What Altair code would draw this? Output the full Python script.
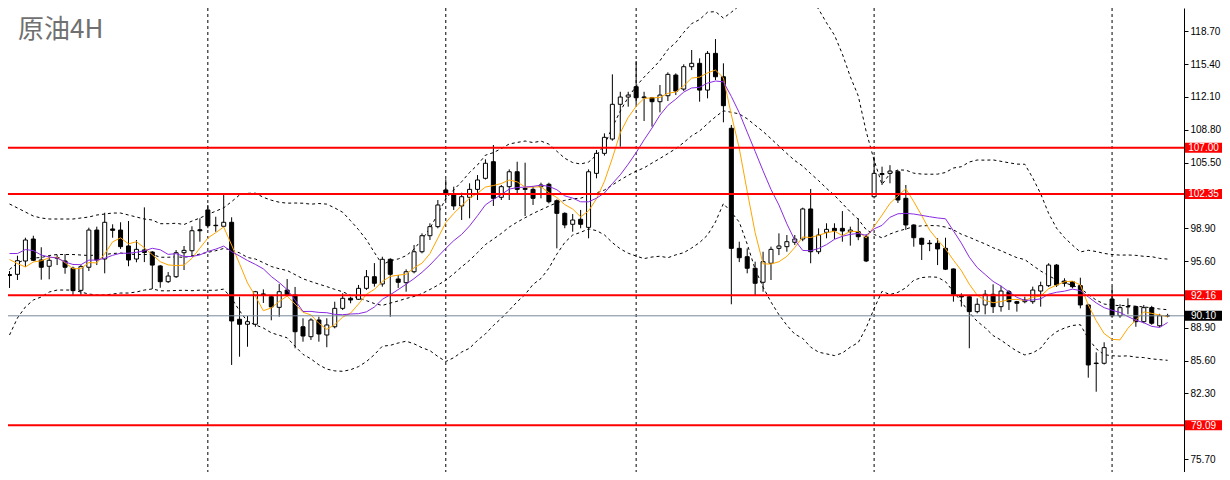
import altair as alt
import pandas as pd

# ---------------- data ----------------
opens = [94.25, 94.27, 95.61, 97.82, 95.71, 95.08, 95.95, 95.61, 94.88, 92.66,
         94.98, 98.72, 95.81, 98.83, 98.72, 97.12, 95.81, 96.72, 96.51, 95.11,
         93.53, 94.03, 96.44, 96.64, 98.75, 100.74, 99.20, 99.10, 99.50, 89.75,
         89.25, 89.25, 92.30, 92.02, 90.95, 92.69, 92.19, 89.00, 88.00, 89.68,
         88.17, 89.00, 90.85, 91.86, 91.76, 92.86, 94.03, 93.30, 95.78, 93.80,
         93.43, 94.53, 96.54, 98.15, 99.06, 102.75, 102.24, 101.14, 102.01, 102.81,
         103.92, 105.59, 102.01, 103.08, 104.58, 102.90, 102.81, 103.08, 103.32, 101.67,
         100.40, 99.30, 99.80, 98.99, 104.42, 106.43, 107.87, 111.36, 112.09, 113.13,
         112.10, 112.02, 111.62, 112.22, 114.30, 112.89, 115.14, 115.48, 112.79, 116.48,
         114.13, 108.95, 96.88, 96.04, 94.88, 93.47, 95.38, 96.88, 97.05, 97.49,
         97.82, 100.84, 96.54, 98.49, 98.89, 98.89, 98.55, 98.55, 98.05, 102.07,
         104.40, 104.42, 104.58, 101.91, 99.23, 97.89, 97.40, 97.39, 96.88, 94.81,
         92.10, 92.02, 90.52, 91.19, 92.26, 91.02, 92.52, 91.52, 91.52, 91.52,
         92.59, 93.13, 95.20, 93.60, 93.53, 93.13, 91.19, 85.35, 85.33, 91.79,
         90.11, 91.00, 91.02, 89.51, 90.92, 89.10, 90.10]
highs = [94.60, 96.14, 97.95, 98.15, 96.99, 96.14, 96.24, 96.31, 95.04, 95.21,
         98.96, 99.06, 100.46, 99.30, 99.50, 99.63, 97.72, 101.00, 96.60, 95.20,
         94.50, 96.71, 97.12, 99.10, 99.90, 101.24, 100.06, 102.24, 100.00, 92.02,
         90.08, 92.60, 92.76, 92.10, 93.29, 93.80, 93.00, 89.85, 89.85, 90.01,
         89.85, 91.52, 92.36, 92.02, 93.20, 94.70, 95.40, 96.04, 95.88, 94.20,
         94.77, 97.22, 98.39, 99.40, 101.74, 103.82, 103.08, 102.47, 103.42, 104.25,
         105.83, 107.27, 103.25, 104.82, 105.59, 105.49, 103.08, 103.48, 103.48, 101.80,
         100.50, 100.33, 100.74, 104.82, 106.76, 108.44, 114.37, 112.62, 112.62, 115.71,
         112.62, 112.10, 113.30, 114.57, 114.47, 115.38, 116.82, 115.98, 116.71, 117.92,
         115.48, 109.28, 97.55, 96.88, 95.54, 96.54, 97.05, 98.39, 98.22, 98.22,
         100.97, 102.85, 98.89, 99.40, 99.40, 100.63, 99.06, 99.90, 98.30, 106.09,
         105.09, 105.24, 104.75, 103.25, 99.30, 97.95, 97.72, 97.89, 97.95, 94.85,
         92.36, 92.10, 91.86, 92.69, 93.27, 93.13, 92.69, 91.60, 92.02, 93.03,
         93.53, 95.38, 95.30, 93.87, 93.60, 93.93, 91.30, 86.43, 87.44, 93.03,
         91.26, 91.86, 91.10, 91.19, 91.10, 90.30, 90.30]
lows = [92.90, 93.70, 95.04, 95.60, 93.73, 93.77, 95.20, 94.33, 92.19, 92.19,
        94.60, 95.20, 94.37, 97.95, 96.82, 95.08, 95.48, 95.50, 92.80, 92.92,
        93.40, 93.90, 94.70, 96.10, 97.55, 98.90, 98.55, 99.00, 85.16, 85.99,
        86.99, 89.00, 91.39, 89.65, 90.01, 92.10, 86.84, 87.50, 87.67, 87.50,
        86.94, 88.84, 90.68, 91.36, 91.70, 92.70, 93.03, 93.03, 90.01, 92.90,
        92.52, 94.37, 96.38, 97.72, 98.90, 101.74, 100.74, 99.73, 99.90, 101.74,
        103.80, 101.14, 101.74, 101.74, 102.24, 100.13, 101.24, 101.91, 101.40, 96.88,
        98.90, 98.55, 98.90, 97.89, 103.92, 106.20, 107.70, 107.10, 111.12, 111.39,
        109.68, 109.11, 110.55, 111.69, 112.29, 112.70, 114.80, 111.62, 111.96, 113.80,
        109.55, 91.26, 95.50, 94.37, 92.19, 92.52, 93.70, 96.20, 96.54, 97.22,
        97.60, 95.38, 96.30, 97.89, 97.82, 97.55, 97.15, 97.70, 95.50, 101.90,
        103.25, 103.42, 101.44, 98.73, 97.05, 95.71, 96.60, 95.20, 94.70, 91.52,
        91.02, 86.84, 90.35, 90.25, 90.38, 90.52, 90.68, 90.52, 91.36, 91.30,
        91.02, 93.00, 93.00, 93.03, 92.86, 90.85, 83.88, 82.47, 85.20, 89.90,
        89.90, 90.25, 89.00, 89.35, 89.20, 88.95, 89.95]
closes = [94.15, 95.64, 97.72, 95.68, 94.98, 95.68, 95.89, 94.98, 92.63, 95.04,
          98.72, 95.71, 99.50, 98.69, 97.05, 95.71, 96.78, 96.47, 95.20, 93.53,
          94.10, 96.44, 96.68, 98.65, 98.65, 99.16, 99.16, 99.50, 89.58, 89.25,
          89.51, 92.52, 92.20, 90.99, 92.52, 92.19, 88.50, 88.07, 89.68, 88.27,
          89.18, 90.85, 91.86, 91.69, 92.86, 94.03, 93.37, 95.78, 94.27, 93.47,
          94.53, 96.54, 98.15, 99.06, 101.24, 102.34, 101.14, 102.07, 102.81, 103.75,
          105.43, 101.91, 103.08, 104.58, 102.81, 102.81, 101.91, 103.25, 101.57, 100.40,
          99.23, 99.73, 99.30, 104.58, 106.43, 108.04, 111.36, 112.09, 112.29, 112.02,
          112.02, 111.62, 112.29, 114.37, 112.69, 115.14, 115.48, 112.79, 116.48, 114.13,
          111.22, 96.88, 95.94, 94.88, 93.37, 95.54, 96.78, 97.12, 97.55, 97.82,
          100.84, 96.54, 98.22, 98.79, 98.65, 98.62, 98.72, 98.05, 95.61, 104.42,
          104.30, 104.65, 101.74, 99.23, 97.95, 97.29, 97.35, 96.82, 94.78, 92.26,
          92.00, 90.52, 91.26, 92.26, 91.02, 92.59, 91.52, 91.36, 91.69, 92.69,
          93.13, 95.20, 93.20, 93.37, 93.03, 91.19, 85.16, 85.30, 86.90, 90.11,
          90.92, 91.02, 89.51, 90.92, 89.35, 90.11, 90.10]

# indicator values at the left edge (before a full window exists)
ma5_head = [95.76, 95.35, 95.01, 95.51]
ma10_head = [96.36, 96.36, 96.76, 96.66, 96.21, 96.01, 95.91, 95.51, 95.26]
bb_upper_head = [101.34, 100.94, 100.53, 100.13, 99.93, 99.83, 99.83, 99.83, 99.83, 99.93,
                 100.03, 100.23, 100.33, 100.43, 100.43, 100.23, 100.03, 99.83, 99.73]
bb_middle_head = [94.76, 95.41, 95.76, 95.91, 95.96, 96.16, 96.26, 96.26, 96.26, 96.21,
                  96.16, 96.21, 96.26, 96.36, 96.41, 96.31, 96.26, 96.26, 96.27]
bb_lower_head = [88.17, 89.88, 90.99, 91.69, 91.99, 92.49, 92.69, 92.69, 92.69, 92.49,
                 92.29, 92.19, 92.19, 92.29, 92.39, 92.39, 92.49, 92.69, 92.80]

levels = [107.00, 102.35, 92.16, 79.09]
last_price = [90.10]
separators = [25, 55, 79, 109, 139]
axis_ticks = [118.70, 115.40, 112.10, 108.80, 105.50, 98.90, 95.60,
              88.90, 85.60, 82.30, 75.70]
chart_title = ["原油4H"]

# ---------------- tables ----------------
n = len(closes)
candles = pd.DataFrame({"i": list(range(n)), "o": opens, "h": highs, "l": lows, "c": closes})
candles["blo"] = candles[["o", "c"]].min(axis=1)
candles["bhi"] = candles[["o", "c"]].max(axis=1)
candles["fillc"] = ["white" if c >= o else "black" for o, c in zip(opens, closes)]

cs = pd.Series(closes)
ma5 = cs.rolling(5).mean()
ma10 = cs.rolling(10).mean()
mid = cs.rolling(20).mean()
sd = cs.rolling(20).std(ddof=0)
up = mid + 2 * sd
lo = mid - 2 * sd
for k, v in enumerate(ma5_head):
    ma5[k] = v
for k, v in enumerate(ma10_head):
    ma10[k] = v
for k in range(len(bb_upper_head)):
    up[k] = bb_upper_head[k]
    mid[k] = bb_middle_head[k]
    lo[k] = bb_lower_head[k]

ind = pd.DataFrame({"i": list(range(n)), "ma5": ma5, "ma10": ma10})
bands = pd.concat([
    pd.DataFrame({"i": list(range(n)), "v": up, "band": "upper"}),
    pd.DataFrame({"i": list(range(n)), "v": mid, "band": "middle"}),
    pd.DataFrame({"i": list(range(n)), "v": lo, "band": "lower"}),
])

lv = pd.DataFrame({"p": levels, "lab": [f"{v:.2f}" for v in levels]})
lp = pd.DataFrame({"p": last_price, "lab": [f"{v:.2f}" for v in last_price]})
sep = pd.DataFrame({"i": separators})
ttl = pd.DataFrame({"t": chart_title})

# ---------------- scales / axis ----------------
W, H = 1176, 464
XS = alt.Scale(domain=[0.4375, 147.4375], nice=False, zero=False)
YS = alt.Scale(domain=[74.40, 121.04], nice=False, zero=False)
X = alt.X("i:Q", scale=XS, axis=None)

yaxis = alt.Axis(orient="right", values=axis_ticks, format=".2f", title=None,
                 labelFont="Liberation Sans", labelFontSize=10, labelColor="black",
                 tickSize=4, tickColor="black", tickWidth=1, domainColor="black",
                 domainWidth=1, grid=False, labelPadding=2, labelOverlap=False,
                 labelFlush=False)


def Y(field):
    return alt.Y(field, scale=YS, axis=yaxis, title=None)


seps = alt.Chart(sep).mark_rule(color="black", strokeWidth=1, strokeDash=[3, 3]).encode(x=X)

band_lines = alt.Chart(bands).mark_line(color="black", strokeWidth=1, strokeDash=[3, 3], clip=True).encode(
    x=X, y=Y("v:Q"), detail="band:N")

wicks = alt.Chart(candles).mark_rule(color="black", strokeWidth=1, clip=True).encode(
    x=X, y=Y("l:Q"), y2="h:Q")

bodies = alt.Chart(candles).mark_bar(size=4, stroke="black", strokeWidth=1, clip=True).encode(
    x=X, y=Y("blo:Q"), y2="bhi:Q", fill=alt.Fill("fillc:N", scale=None))

ma5_line = alt.Chart(ind).mark_line(color="#FFA500", strokeWidth=1, clip=True).encode(
    x=X, y=Y("ma5:Q"))
ma10_line = alt.Chart(ind).mark_line(color="#8A2BE2", strokeWidth=1, clip=True).encode(
    x=X, y=Y("ma10:Q"))

level_rules = alt.Chart(lv).mark_rule(color="#FF0000", strokeWidth=2).encode(y=Y("p:Q"))
last_rule = alt.Chart(lp).mark_rule(color="#778899", strokeWidth=1).encode(y=Y("p:Q"))

BOX_L, BOX_R = W + 1, W + 38
level_boxes = alt.Chart(lv).transform_calculate(a="datum.p - 0.5", b="datum.p + 0.5").mark_rect(
    fill="#FF0000").encode(y=Y("a:Q"), y2="b:Q", x=alt.value(BOX_L), x2=alt.value(BOX_R))
level_text = alt.Chart(lv).mark_text(color="white", font="Liberation Sans", fontSize=10,
                                     align="center", baseline="middle", dy=0.5).encode(
    y=Y("p:Q"), x=alt.value((BOX_L + BOX_R) / 2), text="lab:N")

last_box = alt.Chart(lp).transform_calculate(a="datum.p - 0.5", b="datum.p + 0.5").mark_rect(
    fill="black").encode(y=Y("a:Q"), y2="b:Q", x=alt.value(BOX_L), x2=alt.value(BOX_R))
last_text = alt.Chart(lp).mark_text(color="white", font="Liberation Sans", fontSize=10,
                                    align="center", baseline="middle", dy=0.5).encode(
    y=Y("p:Q"), x=alt.value((BOX_L + BOX_R) / 2), text="lab:N")

title_text = alt.Chart(ttl).mark_text(font="Noto Sans CJK SC", fontSize=26, color="#707070",
                                      align="left", baseline="alphabetic").encode(
    x=alt.value(10), y=alt.value(30), text="t:N")

chart = alt.layer(
    seps, band_lines, wicks, bodies, ma5_line, ma10_line,
    level_rules, last_rule, level_boxes, level_text, last_box, last_text, title_text
).properties(
    width=W, height=H, autosize="none",
    padding={"left": 0, "top": 0, "right": 38, "bottom": 0},
    background="white"
).configure_view(strokeWidth=0)

chart.save("out.html", embed_options={"renderer": "svg", "actions": False})
